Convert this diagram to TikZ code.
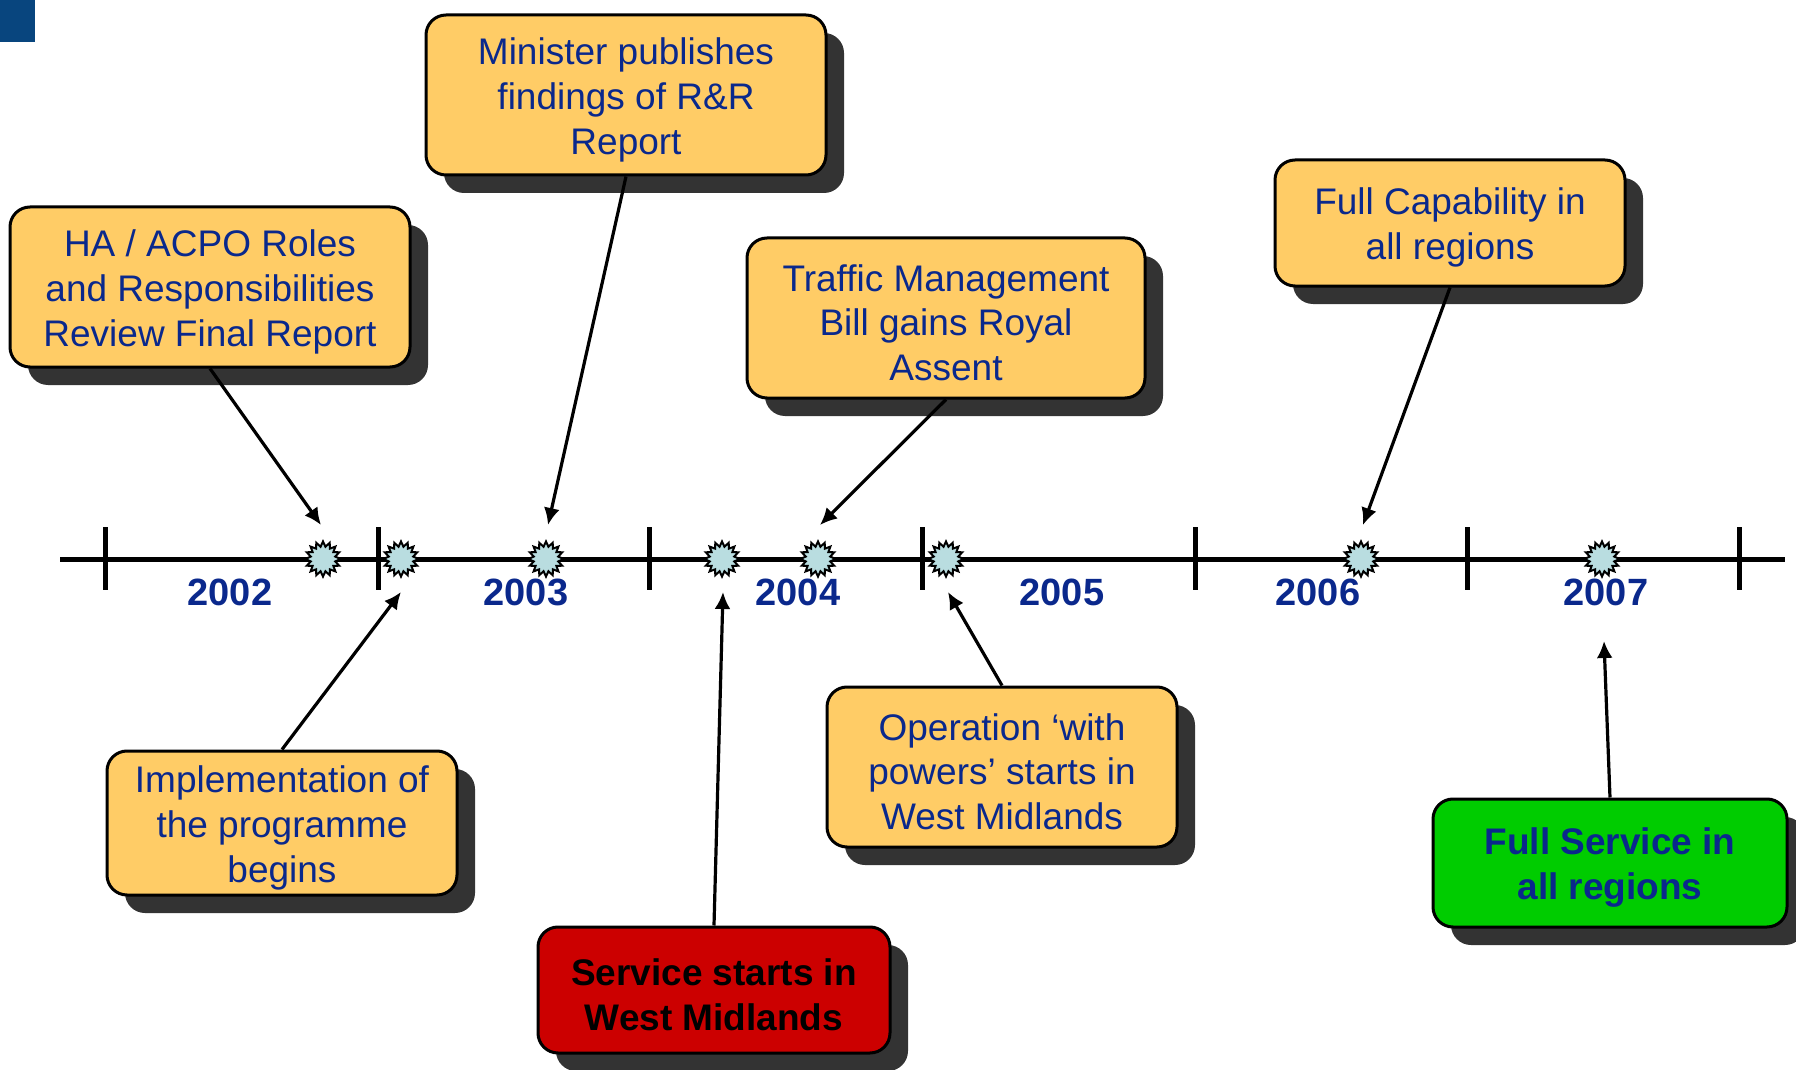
\documentclass[tikz,border=0pt]{standalone}
\usepackage{fontspec}
\setmainfont{Liberation Sans}
\usetikzlibrary{shapes.geometric,shadows,arrows.meta}
\definecolor{boxorange}{RGB}{255,204,102}
\definecolor{boxred}{RGB}{204,0,0}
\definecolor{boxgreen}{RGB}{0,204,0}
\definecolor{textblue}{RGB}{10,40,140}
\definecolor{starblue}{RGB}{185,221,224}
\definecolor{shadowgrey}{RGB}{51,51,51}
\definecolor{cornerblue}{RGB}{8,69,126}
% lowers the text a little inside its box
\newcommand{\topgap}{\rule{0pt}{18.1pt}}
\tikzset{
  event/.style={draw, line width=1.5pt, rounded corners=10pt, fill=boxorange,
    align=center, text=textblue, inner sep=0pt,
    font=\fontsize{18.5}{22.4}\selectfont,
    drop shadow={shadow xshift=9pt, shadow yshift=-9pt, fill=shadowgrey, opacity=1}},
  milestone/.style={star, star points=16, star point ratio=1.4, minimum size=17.5pt,
    inner sep=0pt, draw, line width=1pt, fill=starblue},
  year/.style={text=textblue, font=\fontsize{19}{22}\selectfont\bfseries},
  pointer/.style={-{Latex[length=8.5pt,width=8pt]}, line width=1.6pt}
}
\begin{document}
\begin{tikzpicture}[x=0.5pt, y=-0.5pt]
    \useasboundingbox (0,0) rectangle (1796,1070);
    \fill[cornerblue] (0,0) rectangle (35,42);
    % time line
    \coordinate (lineL) at (60,559);
    \coordinate (lineR) at (1785,559);
    \draw[line width=2.5pt] (lineL) -- (lineR);
    \foreach \x in {105,378,649,922,1195,1467,1739}
        \draw[line width=2.5pt] (\x,527) -- (\x,590);
    % years
    \node[year] (y2002) at (230,592) {2002};
    \node[year] (y2003) at (526,592) {2003};
    \node[year] (y2004) at (798,592) {2004};
    \node[year] (y2005) at (1062,592) {2005};
    \node[year] (y2006) at (1318,592) {2006};
    \node[year] (y2007) at (1606,592) {2007};
    % milestones
    \node[milestone] (m1) at (323,559) {};
    \node[milestone] (m2) at (401,559) {};
    \node[milestone] (m3) at (546,559) {};
    \node[milestone] (m4) at (722,559) {};
    \node[milestone] (m5) at (818,559) {};
    \node[milestone] (m6) at (946,559) {};
    \node[milestone] (m7) at (1361,559) {};
    \node[milestone] (m8) at (1602,559) {};
    % boxes above the line
    \node[event, minimum width=200pt, minimum height=80pt] (review) at (210,287)
        {\topgap HA / ACPO Roles\\and Responsibilities\\Review Final Report};
    \node[event, minimum width=200pt, minimum height=80pt] (minister) at (626,95)
        {\topgap Minister publishes\\findings of R\&R\\Report};
    \node[event, minimum width=199pt, minimum height=80pt] (traffic) at (946,318)
        {\topgap Traffic Management\\Bill gains Royal\\Assent};
    \node[event, minimum width=175pt, minimum height=63pt] (capability) at (1450,223)
        {\topgap Full Capability in\\all regions};
    % boxes below the line
    \node[event, minimum width=175pt, minimum height=72pt] (programme) at (282,823)
        {\topgap Implementation of\\the programme\\begins};
    \node[event, minimum width=176pt, minimum height=63pt, fill=boxred, text=black,
        font=\fontsize{18.5}{22.4}\selectfont\bfseries] (service) at (714,990)
        {\topgap Service starts in\\West Midlands};
    \node[event, minimum width=175pt, minimum height=80pt] (operation) at (1002,767)
        {\topgap Operation `with\\powers' starts in\\West Midlands};
    \node[event, minimum width=177pt, minimum height=64pt, fill=boxgreen,
        font=\fontsize{18.5}{22.4}\selectfont\bfseries] (fullservice) at (1610,863)
        {\topgap Full Service in\\all regions};
    % arrow ends
    \coordinate (e1) at (321,525);
    \coordinate (e2) at (548,525);
    \coordinate (e3) at (820,525);
    \coordinate (e4) at (1363,525);
    \coordinate (e5) at (401,592);
    \coordinate (e6) at (723,592);
    \coordinate (e7) at (948,592);
    \coordinate (e8) at (1604,641);
    % arrows
    \draw[pointer] (review.south) -- (e1);
    \draw[pointer] (minister.south) -- (e2);
    \draw[pointer] (traffic.south) -- (e3);
    \draw[pointer] (capability.south) -- (e4);
    \draw[pointer] (programme.north) -- (e5);
    \draw[pointer] (service.north) -- (e6);
    \draw[pointer] (operation.north) -- (e7);
    \draw[pointer] (fullservice.north) -- (e8);
\end{tikzpicture}
\end{document}
